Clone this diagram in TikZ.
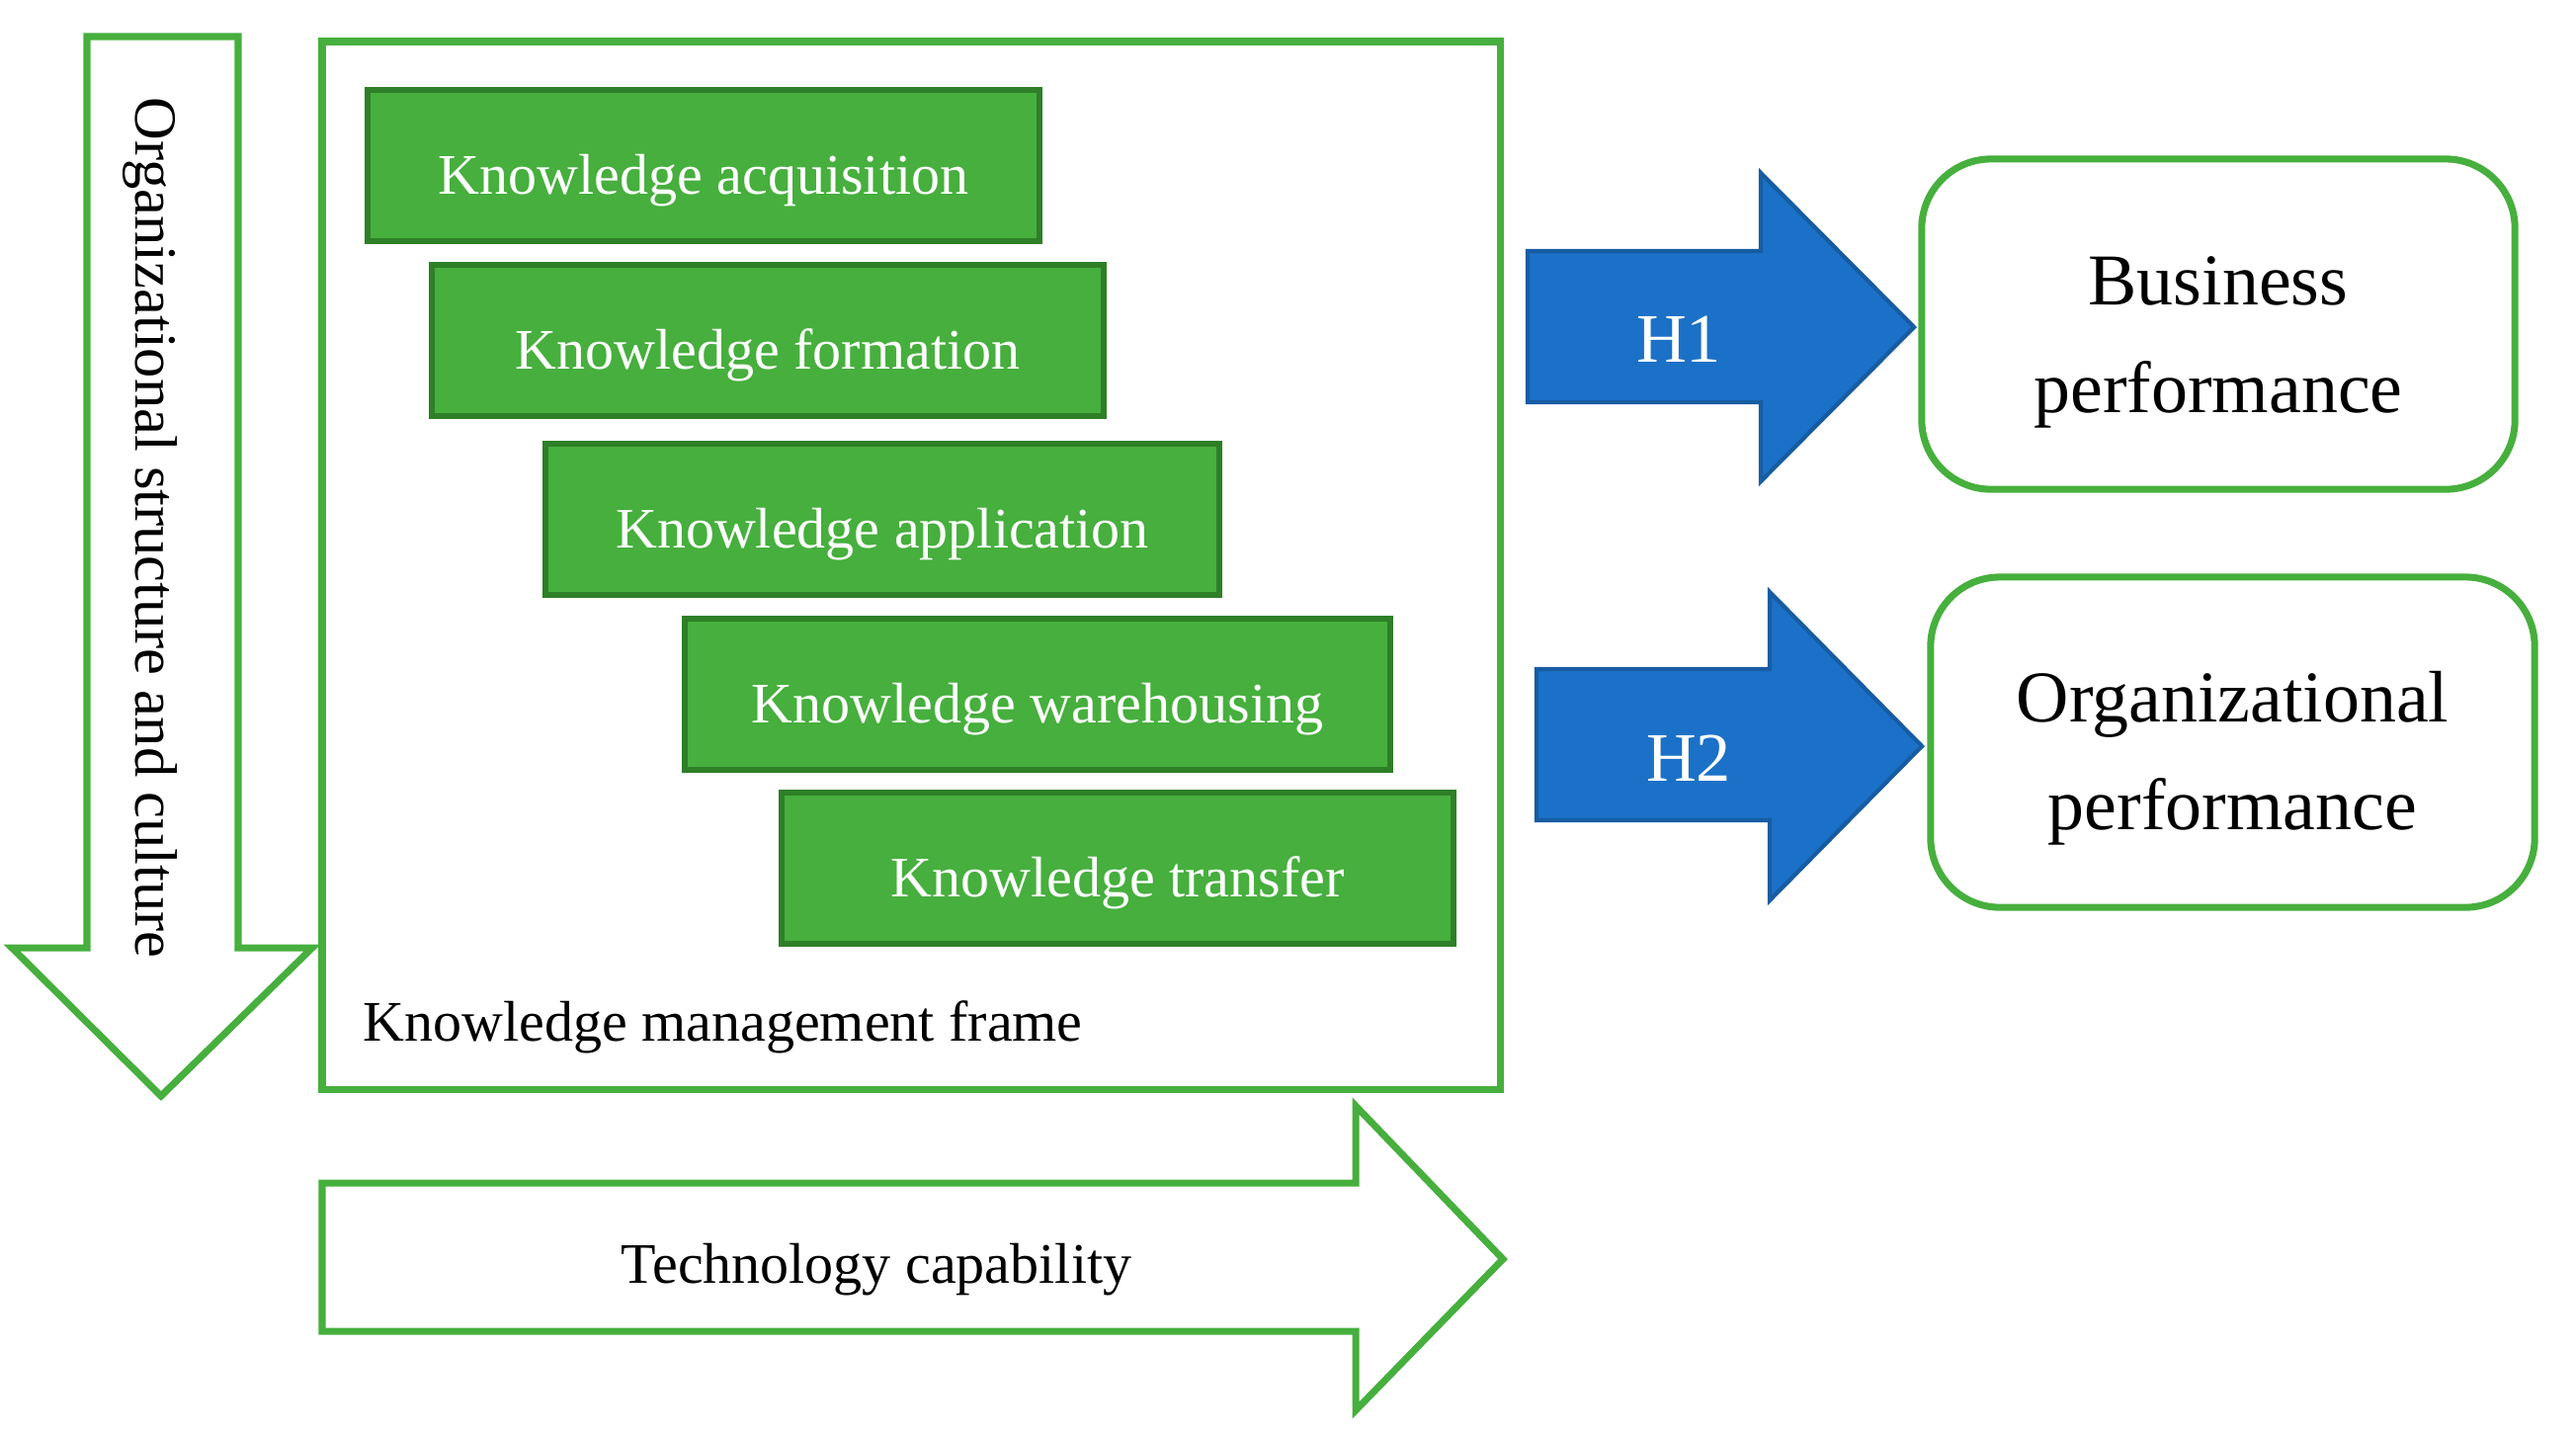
\documentclass[tikz,border=0pt]{standalone}
\usepackage{fontspec}
\setmainfont{Liberation Serif}
\definecolor{kmgreen}{HTML}{46AF3D}
\definecolor{kmdark}{HTML}{2E7F27}
\definecolor{hblue}{HTML}{1B71C7}
\definecolor{hdark}{HTML}{175CA3}

\begin{document}
\begin{tikzpicture}[x=0.01cm,y=-0.01cm,every node/.style={font=\fontsize{16.5}{20}\selectfont},
  kbox/.style={draw=kmdark,line width=1.6pt,fill=kmgreen,text=white,minimum height=1.53cm,inner sep=0pt,text height=0.7cm,text depth=0.13cm},
  gline/.style={draw=kmgreen,line width=2pt},
  harrow/.style={fill=hblue,draw=hdark,line width=1.2pt},
  perf/.style={draw=kmgreen,line width=2pt,rounded corners=0.7cm,minimum height=3.34cm,align=center,font=\fontsize{21}{31}\selectfont}]
\useasboundingbox (0,0) rectangle (2607,1450);
\draw[gline,fill=white] (88,37)--(241,37)--(241,959)--(316,959)--(163,1109)--(12,959)--(88,959)--cycle;
\node[rotate=-90,font=\fontsize{17.2}{20}\selectfont] (osc) at (152,534){Organizational structure and culture};
\draw[gline] (326,42) rectangle (1518,1102);
\foreach \n/\x/\y/\w/\t in {ka/712/167.5/6.8cm/Knowledge acquisition,kf/777/344.5/6.8cm/Knowledge formation,kap/893/525.5/6.82cm/Knowledge application,kw/1050/702.5/7.14cm/Knowledge warehousing,kt/1131/878.5/6.8cm/Knowledge transfer}{\node[kbox,minimum width=\w] (\n) at (\x,\y){\t};}
\node[anchor=west] (kmf) at (355,1039){Knowledge management frame};
\draw[gline] (326,1197)--(1372,1197)--(1372,1119)--(1521,1274)--(1372,1427)--(1372,1347)--(326,1347)--cycle;
\node (tc) at (887,1285){Technology capability};
\draw[harrow] (1546,254)--(1782,254)--(1782,175)--(1937,331)--(1782,487)--(1782,407)--(1546,407)--cycle;
\node[text=white,font=\fontsize{20}{24}\selectfont] (h1) at (1699,343){H1};
\draw[harrow] (1555,677)--(1791,677)--(1791,599)--(1945,755)--(1791,911)--(1791,830)--(1555,830)--cycle;
\node[text=white,font=\fontsize{20}{24}\selectfont] (h2) at (1709,767){H2};
\node[perf,minimum width=6cm] (bp) at (2245,328){\rule{0pt}{0.86cm}Business\\performance};
\node[perf,minimum width=6.11cm] (op) at (2259.5,751){\rule{0pt}{0.84cm}Organizational\\performance};
\end{tikzpicture}
\end{document}
